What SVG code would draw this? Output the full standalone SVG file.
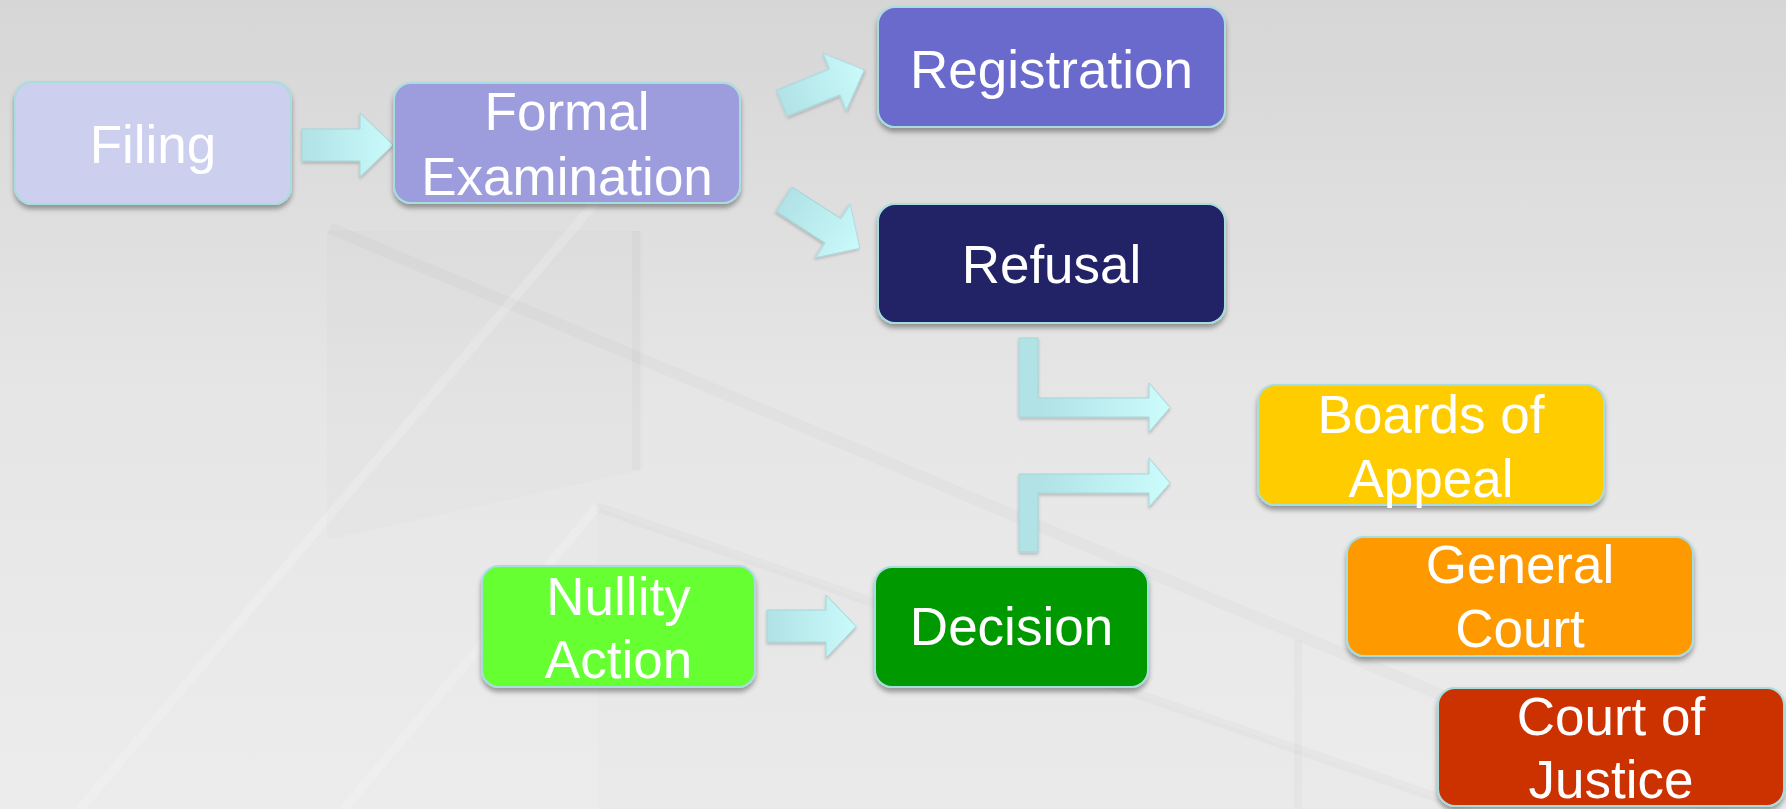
<svg xmlns="http://www.w3.org/2000/svg" width="1786" height="809" viewBox="0 0 1786 809">
  <defs>
    <linearGradient id="bg" x1="0" y1="0" x2="0" y2="1">
      <stop offset="0" stop-color="#d6d6d6"/>
      <stop offset="0.5" stop-color="#e6e6e6"/>
      <stop offset="1" stop-color="#ececec"/>
    </linearGradient>
    <linearGradient id="arrowFill" x1="0" y1="0" x2="1" y2="0">
      <stop offset="0" stop-color="#b0e2e6"/>
      <stop offset="1" stop-color="#cafafa"/>
    </linearGradient>
    <linearGradient id="elbowFill" gradientUnits="userSpaceOnUse" x1="1040" y1="0" x2="1170" y2="0">
      <stop offset="0" stop-color="#b0e2e6"/>
      <stop offset="1" stop-color="#ccfcfc"/>
    </linearGradient>
    <filter id="shadow" x="-10%" y="-10%" width="120%" height="130%">
      <feDropShadow dx="0" dy="4" stdDeviation="2.5" flood-color="#000" flood-opacity="0.35"/>
    </filter>
    <filter id="arrowShadow" x="-10%" y="-10%" width="120%" height="130%">
      <feDropShadow dx="0" dy="2" stdDeviation="1.5" flood-color="#000" flood-opacity="0.2"/>
    </filter>
  </defs>
  <style>
    .box { stroke: #a8dde0; stroke-width: 2; filter: url(#shadow); }
    .label { font-family: "Liberation Sans", Arial, sans-serif; font-size: 53px; fill: #ffffff; text-anchor: middle; }
    .arrow { fill: url(#arrowFill); stroke: #a3d6da; stroke-width: 1; filter: url(#arrowShadow); }
    .elbow { fill: url(#elbowFill); stroke: #a3d6da; stroke-width: 1; filter: url(#arrowShadow); }
    .deco-dark { stroke: #000; stroke-opacity: 0.018; fill: none; }
    .deco-light { stroke: #fff; stroke-opacity: 0.18; fill: none; }
  </style>

  <!-- backdrop -->
  <rect x="0" y="0" width="1786" height="809" fill="url(#bg)"/>
  <g id="backdrop-pattern">
    <polygon points="327,231 643,231 643,470 327,540" fill="#000" fill-opacity="0.012"/>
    <line class="deco-dark" x1="330" y1="228" x2="1786" y2="840" stroke-width="12"/>
    <line class="deco-light" x1="640" y1="150" x2="80" y2="809" stroke-width="9"/>
    <line class="deco-dark" x1="636" y1="231" x2="636" y2="470" stroke-width="8"/>
    <line class="deco-dark" x1="597" y1="507" x2="1470" y2="809" stroke-width="10"/>
    <line class="deco-light" x1="597" y1="507" x2="344" y2="809" stroke-width="9"/>
    <polygon points="597,507 1470,809 597,809" fill="#000" fill-opacity="0.008"/>
    <line class="deco-dark" x1="1298" y1="640" x2="1298" y2="809" stroke-width="8"/>
  </g>

  <!-- connectors -->
  <g id="connectors">
    <polygon class="arrow" points="302,129 360,129 360,113 393,145 360,177 360,161 302,161"/>
    <polygon class="arrow" transform="translate(781.7,103.3) rotate(-22)" points="0,-14 57,-14 57,-31 89,0 57,31 57,14 0,14"/>
    <polygon class="arrow" transform="translate(784.2,199.2) rotate(33)" points="0,-14.5 58,-14.5 58,-32 90,0 58,32 58,14.5 0,14.5"/>
    <path class="elbow" d="M1019,338 L1038,338 L1038,398 L1149,398 L1149,383 L1170,407.5 L1149,432 L1149,417 L1019,417 Z"/>
    <path class="elbow" d="M1019,552 L1019,474 L1149,474 L1149,458 L1170,483 L1149,507 L1149,493 L1038,493 L1038,552 Z"/>
    <polygon class="arrow" points="767,610 826,610 826,595 856,626.5 826,658 826,642 767,642"/>
  </g>

  <!-- nodes -->
  <g id="filing">
    <rect class="box" x="15" y="82" width="276" height="122" rx="17" fill="#cccfee"/>
    <text class="label" x="153" y="163">Filing</text>
  </g>
  <g id="formal-examination">
    <rect class="box" x="394" y="83" width="346" height="120" rx="17" fill="#9d9cdc"/>
    <text class="label" x="567" y="130">Formal</text>
    <text class="label" x="567" y="195">Examination</text>
  </g>
  <g id="registration">
    <rect class="box" x="878" y="7" width="347" height="120" rx="17" fill="#6b6bcc"/>
    <text class="label" x="1051.5" y="88">Registration</text>
  </g>
  <g id="refusal">
    <rect class="box" x="878" y="204" width="347" height="119" rx="17" fill="#222066"/>
    <text class="label" x="1051.5" y="283">Refusal</text>
  </g>
  <g id="boards-of-appeal">
    <rect class="box" x="1258" y="385" width="346" height="120" rx="17" fill="#ffcc00"/>
    <text class="label" x="1431" y="433">Boards of</text>
    <text class="label" x="1431" y="497">Appeal</text>
  </g>
  <g id="general-court">
    <rect class="box" x="1347" y="537" width="346" height="119" rx="17" fill="#ff9900"/>
    <text class="label" x="1520" y="583">General</text>
    <text class="label" x="1520" y="647">Court</text>
  </g>
  <g id="court-of-justice">
    <rect class="box" x="1438" y="688" width="346" height="118" rx="17" fill="#cc3300"/>
    <text class="label" x="1611" y="735">Court of</text>
    <text class="label" x="1611" y="798">Justice</text>
  </g>
  <g id="nullity-action">
    <rect class="box" x="482" y="566" width="273" height="121" rx="17" fill="#66ff33"/>
    <text class="label" x="618.5" y="615">Nullity</text>
    <text class="label" x="618.5" y="678">Action</text>
  </g>
  <g id="decision">
    <rect class="box" x="875" y="567" width="273" height="120" rx="17" fill="#009900"/>
    <text class="label" x="1011.5" y="645">Decision</text>
  </g>
</svg>
